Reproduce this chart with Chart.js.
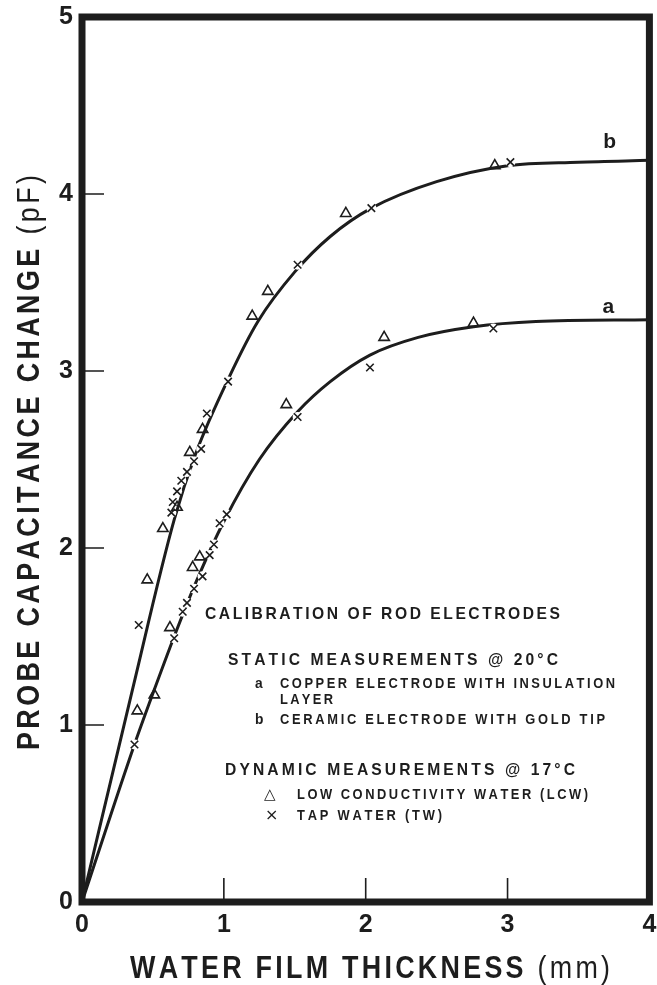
<!DOCTYPE html>
<html>
<head>
<meta charset="utf-8">
<script src="https://cdn.jsdelivr.net/npm/chart.js@4.4.1/dist/chart.umd.min.js"></script>
<style>
  html, body { margin: 0; padding: 0; background: #ffffff; }
  canvas { display: block; }
</style>
</head>
<body>
<canvas id="c" width="657" height="985"></canvas>
<script>
// ---- data ----
const xTicks = [0, 1, 2, 3, 4];
const yTicks = [0, 1, 2, 3, 4, 5];

// fitted calibration curves
const curveA_x = [0, 0.37, 0.51, 0.65, 0.80, 1.00, 1.25, 1.52, 1.75, 2.03, 2.37, 2.76, 3.20, 4.00];
const curveA_y = [0, 0.89, 1.20, 1.50, 1.80, 2.15, 2.50, 2.77, 2.94, 3.09, 3.19, 3.25, 3.28, 3.29];
const curveB_x = [0, 0.35, 0.65, 0.80, 1.04, 1.24, 1.50, 1.75, 2.04, 2.50, 3.00, 3.50, 4.00];
const curveB_y = [0, 1.18, 2.16, 2.53, 2.97, 3.28, 3.56, 3.76, 3.92, 4.07, 4.16, 4.18, 4.19];

// measurements: LCW (triangles) and TW (crosses)
const bLCW_x = [0.46, 0.57, 0.67, 0.76, 0.85, 1.20, 1.31, 1.86, 2.91];
const bLCW_y = [1.82, 2.11, 2.23, 2.54, 2.67, 3.31, 3.45, 3.89, 4.16];
const bTW_x  = [0.40, 0.63, 0.64, 0.67, 0.70, 0.74, 0.79, 0.84, 0.88, 1.03, 1.52, 2.04, 3.02];
const bTW_y  = [1.565, 2.20, 2.26, 2.32, 2.38, 2.43, 2.49, 2.56, 2.76, 2.94, 3.60, 3.92, 4.18];
const aLCW_x = [0.39, 0.51, 0.62, 0.78, 0.83, 1.44, 2.13, 2.76];
const aLCW_y = [1.08, 1.17, 1.55, 1.89, 1.95, 2.81, 3.19, 3.27];
const aTW_x  = [0.37, 0.65, 0.71, 0.74, 0.79, 0.85, 0.90, 0.93, 0.97, 1.02, 1.52, 2.03, 2.90];
const aTW_y  = [0.89, 1.49, 1.64, 1.69, 1.77, 1.84, 1.96, 2.02, 2.14, 2.19, 2.74, 3.02, 3.24];

const curveLabels = [
  { text: 'b', x: 3.72, y: 4.29 },
  { text: 'a', x: 3.71, y: 3.36 }
];

const xTitle = [['WATER FILM THICKNESS ', 'bold'], ['(mm)', 'normal']];
const yTitle = [['PROBE CAPACITANCE CHANGE ', 'bold'], ['(pF)', 'normal']];

const legendLines = [
  { text: 'CALIBRATION OF ROD ELECTRODES', size: 17, x: 205, y: 619, w: 355 },
  { text: 'STATIC MEASUREMENTS @ 20°C', size: 17, x: 228, y: 665, w: 330 },
  { text: 'a', size: 15, x: 255, y: 688 },
  { text: 'COPPER ELECTRODE WITH INSULATION', size: 14, x: 280, y: 688, w: 335 },
  { text: 'LAYER', size: 14, x: 280, y: 704, w: 53 },
  { text: 'b', size: 15, x: 255, y: 724 },
  { text: 'CERAMIC ELECTRODE WITH GOLD TIP', size: 14, x: 280, y: 724, w: 325 },
  { text: 'DYNAMIC MEASUREMENTS @ 17°C', size: 17, x: 225, y: 775, w: 350 },
  { text: '△', size: 15, x: 264, y: 799, sym: true },
  { text: 'LOW CONDUCTIVITY WATER (LCW)', size: 14, x: 297, y: 799, w: 291 },
  { text: '×', size: 16, x: 265, y: 820, sym: true },
  { text: 'TAP WATER (TW)', size: 14, x: 297, y: 820, w: 145 }
];

// ---- helpers ----
const INK = '#1d1d1d';
const FONT = "'Liberation Sans', Arial, Helvetica, sans-serif";
const zip = (xs, ys) => xs.map((x, i) => ({ x: x, y: ys[i] }));

// draws text segments spread over a given width; sxFix condenses glyphs
function spacedSegments(ctx, segs, size, x, y, width, sxFix) {
  const chars = [];
  segs.forEach(([t, wt]) => {
    [...t].forEach(ch => chars.push({ ch, font: wt + ' ' + size + 'px ' + FONT }));
  });
  chars.forEach(c => { ctx.font = c.font; c.w = ctx.measureText(c.ch).width; });
  let sx = sxFix || 1;
  const nat = chars.reduce((s, c) => s + c.w, 0) * sx;
  let extra = 0;
  if (width) {
    extra = (width - nat) / Math.max(1, chars.length - 1);
    if (extra < 0) { sx = sx * width / nat; extra = 0; }
  }
  ctx.save();
  ctx.translate(x, y);
  let cx = 0;
  chars.forEach(c => {
    ctx.font = c.font;
    ctx.save(); ctx.translate(cx, 0); ctx.scale(sx, 1); ctx.fillText(c.ch, 0, 0); ctx.restore();
    cx += c.w * sx + extra;
  });
  ctx.restore();
}

const deco = {
  id: 'deco',
  afterDraw(chart) {
    const ctx = chart.ctx;
    const a = chart.chartArea;
    const xs = chart.scales.x, ys = chart.scales.y;
    ctx.save();
    ctx.fillStyle = INK;
    ctx.strokeStyle = INK;
    ctx.textAlign = 'left';
    ctx.textBaseline = 'alphabetic';

    // inward tick marks
    ctx.lineWidth = 1.6;
    ctx.beginPath();
    yTicks.forEach(v => {
      if (v <= ys.min || v >= ys.max) return;
      const py = ys.getPixelForValue(v);
      ctx.moveTo(a.left, py); ctx.lineTo(a.left + 22, py);
    });
    xTicks.forEach(v => {
      if (v <= xs.min || v >= xs.max) return;
      const px = xs.getPixelForValue(v);
      ctx.moveTo(px, a.bottom); ctx.lineTo(px, a.bottom - 24);
    });
    ctx.stroke();

    // heavy frame
    ctx.lineWidth = 7;
    ctx.lineJoin = 'miter';
    ctx.strokeRect(a.left, a.top, a.right - a.left, a.bottom - a.top);

    // curve labels
    ctx.textAlign = 'center';
    ctx.textBaseline = 'middle';
    ctx.font = 'bold 21px ' + FONT;
    curveLabels.forEach(l => {
      ctx.fillText(l.text, xs.getPixelForValue(l.x), ys.getPixelForValue(l.y));
    });
    ctx.textAlign = 'left';
    ctx.textBaseline = 'alphabetic';

    // legend block
    legendLines.forEach(l => {
      if (l.sym) {
        ctx.font = l.size + "px 'DejaVu Sans', sans-serif";
        ctx.fillText(l.text, l.x, l.y);
      } else {
        spacedSegments(ctx, [[l.text, 'bold']], l.size, l.x, l.y, l.w, 0.92);
      }
    });

    // axis titles
    spacedSegments(ctx, xTitle, 32, 130, 978, 480, 0.84);
    ctx.save();
    ctx.translate(39, 750);
    ctx.rotate(-Math.PI / 2);
    spacedSegments(ctx, yTitle, 32, 0, 0, 575, 0.84);
    ctx.restore();

    ctx.restore();
  }
};

const curveStyle = {
  showLine: true, borderColor: INK, borderWidth: 3, pointRadius: 0,
  cubicInterpolationMode: 'monotone', fill: false, order: 3
};
const haloStyle = {
  showLine: false, pointStyle: 'circle', pointRadius: 5, pointBorderWidth: 0,
  pointBackgroundColor: '#ffffff', pointBorderColor: '#ffffff', order: 2
};
const triStyle = {
  showLine: false, pointStyle: 'triangle', pointRadius: 6, pointBorderWidth: 1.6,
  pointBorderColor: INK, pointBackgroundColor: 'rgba(255,255,255,0)', order: 1
};
const crossStyle = {
  showLine: false, pointStyle: 'crossRot', pointRadius: 5.3, pointBorderWidth: 1.6,
  pointBorderColor: INK, order: 1
};

new Chart(document.getElementById('c'), {
  type: 'scatter',
  data: {
    datasets: [
      Object.assign({ label: 'a', data: zip(curveA_x, curveA_y) }, curveStyle),
      Object.assign({ label: 'b', data: zip(curveB_x, curveB_y) }, curveStyle),
      Object.assign({ label: 'a TW halo', data: zip(aTW_x, aTW_y) }, haloStyle),
      Object.assign({ label: 'b TW halo', data: zip(bTW_x, bTW_y) }, haloStyle),
      Object.assign({ label: 'a LCW', data: zip(aLCW_x, aLCW_y) }, triStyle),
      Object.assign({ label: 'b LCW', data: zip(bLCW_x, bLCW_y) }, triStyle),
      Object.assign({ label: 'a TW', data: zip(aTW_x, aTW_y) }, crossStyle),
      Object.assign({ label: 'b TW', data: zip(bTW_x, bTW_y) }, crossStyle)
    ]
  },
  options: {
    responsive: false,
    animation: false,
    devicePixelRatio: 1,
    layout: { padding: { top: 17, right: 5, left: 0, bottom: 0 } },
    plugins: { legend: { display: false }, tooltip: { enabled: false }, title: { display: false } },
    scales: {
      x: {
        type: 'linear', min: 0, max: 4,
        afterBuildTicks: s => { s.ticks = xTicks.map(v => ({ value: v })); },
        afterFit: s => { s.height = 83; s.paddingLeft = 0; s.paddingRight = 0; },
        grid: { display: false, drawTicks: false },
        border: { display: false },
        ticks: { color: INK, padding: 8, font: { family: FONT, size: 25, weight: 'bold' } }
      },
      y: {
        type: 'linear', min: 0, max: 5,
        afterBuildTicks: s => { s.ticks = yTicks.map(v => ({ value: v })); },
        afterFit: s => { s.width = 82; s.paddingTop = 0; s.paddingBottom = 0; },
        grid: { display: false, drawTicks: false },
        border: { display: false },
        ticks: { color: INK, padding: 9, font: { family: FONT, size: 25, weight: 'bold' } }
      }
    }
  },
  plugins: [deco]
});
</script>
</body>
</html>
